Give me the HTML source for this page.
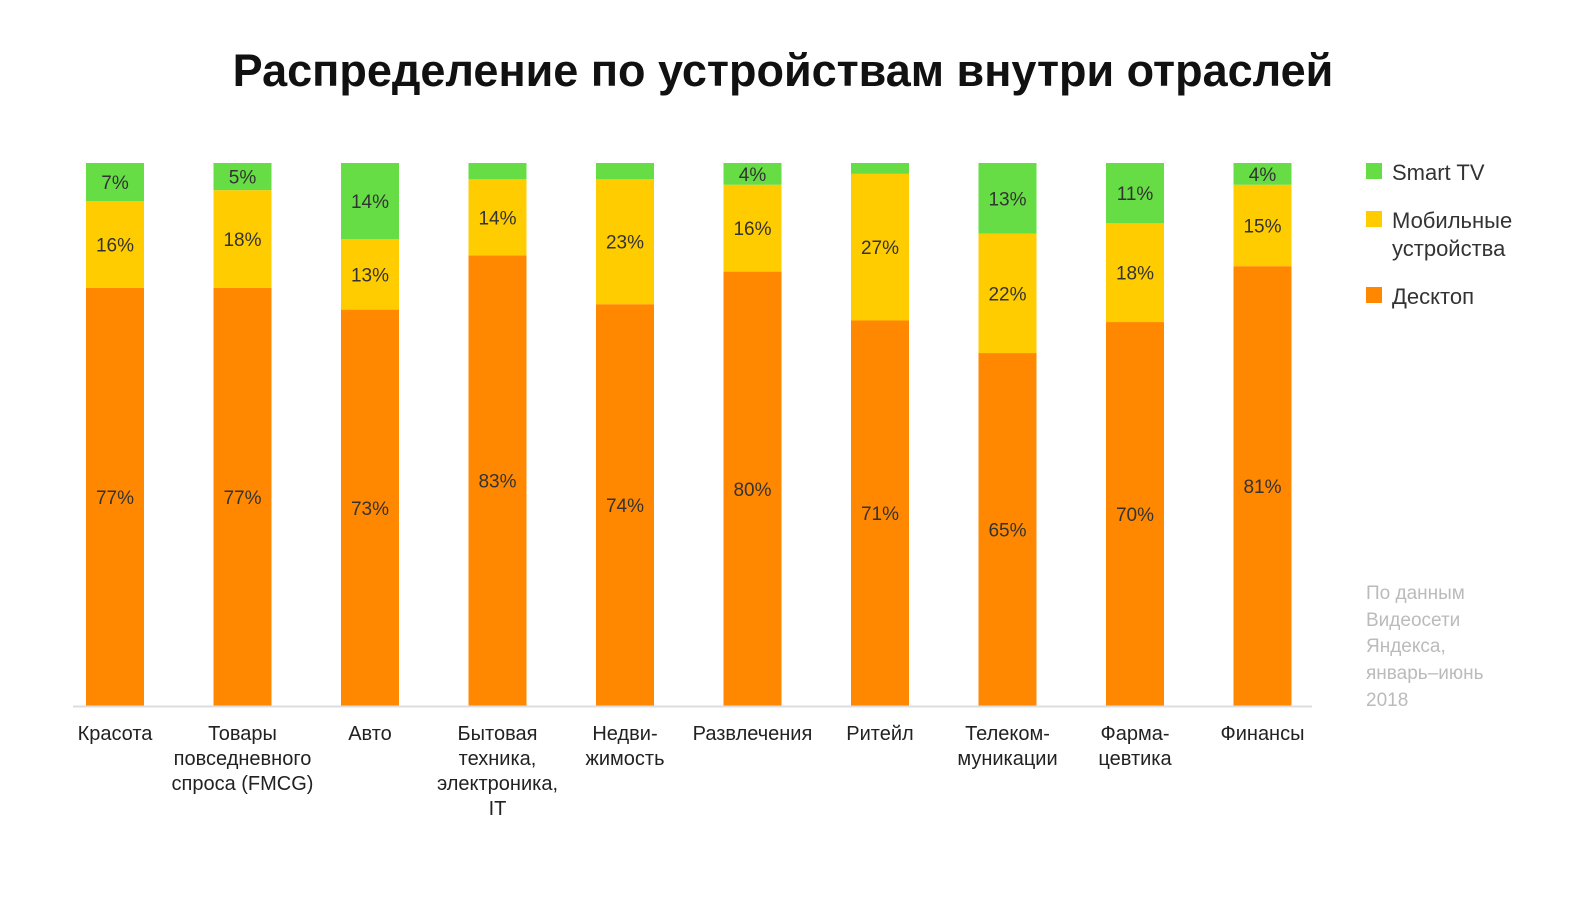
<!DOCTYPE html>
<html><head><meta charset="utf-8">
<style>
body{margin:0;background:#fff;width:1589px;height:900px;overflow:hidden;font-family:"Liberation Sans","DejaVu Sans",sans-serif;}
</style></head>
<body>
<svg id="chart" width="1589" height="900" xmlns="http://www.w3.org/2000/svg" font-family="Liberation Sans, DejaVu Sans, sans-serif">
<text x="783" y="86" text-anchor="middle" font-size="45" font-weight="bold" fill="#111">Распределение по устройствам внутри отраслей</text>
<g id="bars"></g>
<line x1="73" y1="706.5" x2="1312" y2="706.5" stroke="#ddd" stroke-width="2"/>
<g id="xlabels" font-size="20" fill="#222" text-anchor="middle"></g>
<g font-size="22" fill="#333">
<rect x="1366" y="163" width="16" height="16" fill="#66dd44"/>
<text x="1392" y="180">Smart TV</text>
<rect x="1366" y="211" width="16" height="16" fill="#ffcc00"/>
<text x="1392" y="228">Мобильные</text>
<text x="1392" y="256">устройства</text>
<rect x="1366" y="287" width="16" height="16" fill="#ff8800"/>
<text x="1392" y="304">Десктоп</text>
</g>
<g font-size="19" fill="#bbb">
<text x="1366" y="599">По данным</text>
<text x="1366" y="626">Видеосети</text>
<text x="1366" y="652">Яндекса,</text>
<text x="1366" y="679">январь–июнь</text>
<text x="1366" y="706">2018</text>
</g>
</svg>
<script>
const categories=[["Красота"],["Товары","повседневного","спроса (FMCG)"],["Авто"],["Бытовая","техника,","электроника,","IT"],["Недви-","жимость"],["Развлечения"],["Ритейл"],["Телеком-","муникации"],["Фарма-","цевтика"],["Финансы"]];
const catKeys=["krasota","fmcg","avto","bytovaya","nedvizhimost","razvlecheniya","riteyl","telekom","farma","finansy"];
const desktop=[77,77,73,83,74,80,71,65,70,81];
const mobile=[16,18,13,14,23,16,27,22,18,15];
const smarttv=[7,5,14,3,3,4,2,13,11,4];
const NS="http://www.w3.org/2000/svg";
const barTop=163,barBottom=706,barW=58;
function xPos(i){return 86+i*127.5;}
function yScale(v,sum){return (barBottom-barTop)*v/sum;}
const gb=document.getElementById('bars'),gx=document.getElementById('xlabels');
const series=[{d:desktop,c:"#ff8800",n:"desktop"},{d:mobile,c:"#ffcc00",n:"mobile"},{d:smarttv,c:"#66dd44",n:"smart-tv"}];
categories.forEach((cat,i)=>{
  const sum=desktop[i]+mobile[i]+smarttv[i];
  let y=barBottom;
  series.forEach(s=>{
    const h=yScale(s.d[i],sum);
    const r=document.createElementNS(NS,'rect');
    
    
    r.setAttribute('x',xPos(i));r.setAttribute('y',y-h);r.setAttribute('width',barW);r.setAttribute('height',h);r.setAttribute('fill',s.c);
    gb.appendChild(r);
    if(s.d[i]>3){
      const t=document.createElementNS(NS,'text');
      
      
      t.setAttribute('x',xPos(i)+barW/2);t.setAttribute('y',y-h/2+7);
      t.setAttribute('text-anchor','middle');t.setAttribute('font-size','19');t.setAttribute('fill','#333');
      t.textContent=s.d[i]+'%';
      gb.appendChild(t);
    }
    y-=h;
  });
  cat.forEach((line,j)=>{
    const t=document.createElementNS(NS,'text');
    
    
    t.setAttribute('x',xPos(i)+barW/2);t.setAttribute('y',740+j*25);
    t.textContent=line;
    gx.appendChild(t);
  });
});
</script>
</body></html>
